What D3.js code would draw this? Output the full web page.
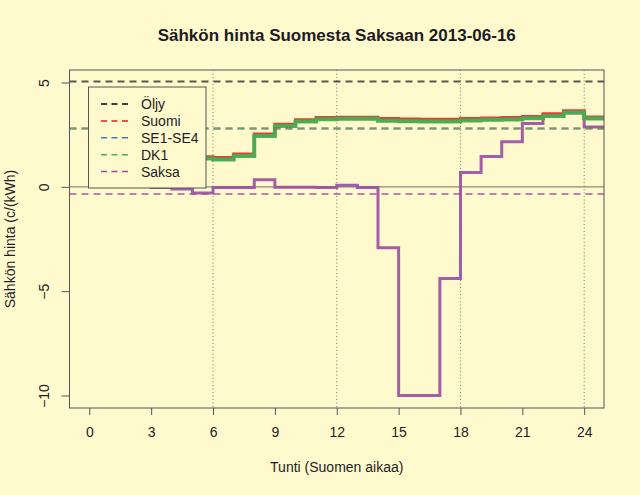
<!DOCTYPE html>
<html>
<head>
<meta charset="utf-8">
<script src="https://cdn.jsdelivr.net/npm/d3@7"></script>
<style>
  html, body { margin: 0; padding: 0; background: #FFFACD; }
  svg { display: block; font-family: "Liberation Sans", Arial, Helvetica, sans-serif; }
</style>
</head>
<body>
<svg id="chart" width="640" height="495"></svg>
<script>
// ---- data ----
const title = "Sähkön hinta Suomesta Saksaan 2013-06-16";
const xLabel = "Tunti (Suomen aikaa)";
const yLabel = "Sähkön hinta (c/(kWh)";
const hours = [0,1,2,3,4,5,6,7,8,9,10,11,12,13,14,15,16,17,18,19,20,21,22,23,24];
const suomi = [1.96,1.86,1.76,1.66,1.56,1.44,1.41,1.57,2.53,3.00,3.21,3.32,3.33,3.33,3.27,3.25,3.24,3.24,3.27,3.30,3.32,3.37,3.50,3.65,3.35];
const se = [1.88,1.78,1.68,1.58,1.48,1.36,1.31,1.48,2.44,2.92,3.13,3.24,3.26,3.26,3.17,3.14,3.13,3.13,3.18,3.21,3.23,3.29,3.40,3.56,3.28];
const dk1 = [1.88,1.78,1.68,1.58,1.48,1.36,1.31,1.48,2.44,2.92,3.13,3.24,3.26,3.26,3.17,3.14,3.13,3.13,3.18,3.21,3.23,3.29,3.40,3.56,3.28];
const saksa = [0.30,0.20,0.12,-0.03,-0.10,-0.30,-0.03,-0.03,0.34,-0.02,-0.02,-0.03,0.08,-0.03,-2.92,-10.0,-10.0,-4.39,0.69,1.46,2.16,3.04,3.38,3.54,2.87];
const seriesNames = ["Öljy","Suomi","SE1-SE4","DK1","Saksa"];
const seriesColors = ["#000000","#E41A1C","#377EB8","#4DAF4A","#984EA3"];
const meanValues = [5.05, 2.80, 2.80, 2.80, -0.34]; // Öljy, Suomi, SE1-SE4, DK1, Saksa
const xTicks = [0,3,6,9,12,15,18,21,24];
const yTicks = [-10,-5,0,5];
const vGrid = [6,12,18,24];

// ---- layout ----
const svg = d3.select("#chart");
const L = 69.5, R = 604, T = 70, B = 408;
const x = d3.scaleLinear().domain([-0.96, 24.96]).range([L, R]);
const y = d3.scaleLinear().domain([-10.6, 5.6]).range([B, T]);
const textCol = "#1f1a24";
const axisCol = "#555555";

svg.append("defs").append("clipPath").attr("id","clip")
  .append("rect").attr("x",L).attr("y",T).attr("width",R-L).attr("height",B-T);

// title
svg.append("text").attr("x",(L+R)/2).attr("y",41).attr("text-anchor","middle")
  .attr("font-weight","bold").attr("font-size",17).attr("fill",textCol).text(title);

const plot = svg.append("g").attr("clip-path","url(#clip)");

// zero line
plot.append("line").attr("x1",L).attr("x2",R).attr("y1",y(0)).attr("y2",y(0))
  .attr("stroke","#8c8a78").attr("stroke-width",1.2);

// vertical dotted lines
plot.selectAll(".vg").data(vGrid).enter().append("line")
  .attr("x1",d=>x(d)).attr("x2",d=>x(d)).attr("y1",T).attr("y2",B)
  .attr("stroke","#555").attr("stroke-width",0.8).attr("stroke-dasharray","1,2.5");

// step series (value of hour h spans h..h+1)
function stepData(vals){
  const pts = hours.map((h,i)=>[h, vals[i]]);
  pts.push([hours[hours.length-1]+1, vals[vals.length-1]]);
  return pts;
}
const stepLine = d3.line().x(d=>x(d[0])).y(d=>y(d[1])).curve(d3.curveStepAfter);

// draw order: Saksa, Suomi, SE, DK1
plot.append("path").datum(stepData(saksa)).attr("d",stepLine)
  .attr("fill","none").attr("stroke",seriesColors[4]).attr("stroke-width",3).attr("stroke-opacity",0.9);
plot.append("path").datum(stepData(suomi)).attr("d",stepLine)
  .attr("fill","none").attr("stroke",seriesColors[1]).attr("stroke-width",3).attr("stroke-opacity",0.85);
plot.append("path").datum(stepData(se)).attr("d",stepLine)
  .attr("fill","none").attr("stroke",seriesColors[2]).attr("stroke-width",3).attr("stroke-opacity",0.85);
plot.append("path").datum(stepData(dk1)).attr("d",stepLine)
  .attr("fill","none").attr("stroke",seriesColors[3]).attr("stroke-width",4).attr("stroke-opacity",0.9);

// mean dashed lines
plot.selectAll(".mean").data(meanValues).enter().append("line")
  .attr("x1",L).attr("x2",R).attr("y1",d=>y(d)).attr("y2",d=>y(d))
  .attr("stroke",(d,i)=>seriesColors[i]).attr("stroke-width",2)
  .attr("stroke-opacity",(d,i)=> i===0 ? 0.65 : (i===4 ? 0.7 : 0.5))
  .attr("stroke-dasharray","7,5");

// box
svg.append("rect").attr("x",L).attr("y",T).attr("width",R-L).attr("height",B-T)
  .attr("fill","none").attr("stroke",axisCol).attr("stroke-width",1);

// x axis
const xAxis = svg.append("g").attr("transform",`translate(0,${B})`)
  .call(d3.axisBottom(x).tickValues(xTicks).tickSize(7).tickPadding(12).tickFormat(d3.format("d")));
xAxis.select(".domain").remove();
xAxis.selectAll("line").attr("stroke",axisCol);
xAxis.selectAll("text").attr("font-size",14).attr("fill",textCol)
  .attr("font-family","'Liberation Sans', Arial, sans-serif");

// y axis
const yAxis = svg.append("g").attr("transform",`translate(${L},0)`)
  .call(d3.axisLeft(y).tickValues(yTicks).tickSize(8).tickFormat(d3.format("d")));
yAxis.select(".domain").remove();
yAxis.selectAll("line").attr("stroke",axisCol);
yAxis.selectAll("text")
  .attr("font-size",14).attr("fill",textCol).attr("font-family","'Liberation Sans', Arial, sans-serif")
  .attr("x",null).attr("dy",null)
  .attr("text-anchor","middle")
  .attr("transform","translate(-20.5,0) rotate(-90)");

// axis titles
svg.append("text").attr("x",(L+R)/2).attr("y",472).attr("text-anchor","middle")
  .attr("font-size",14).attr("fill",textCol).text(xLabel);
svg.append("text").attr("transform",`translate(15,${(T+B)/2}) rotate(-90)`)
  .attr("text-anchor","middle").attr("font-size",14).attr("fill",textCol).text(yLabel);

// legend
const lg = svg.append("g");
lg.append("rect").attr("x",88.5).attr("y",87).attr("width",117.5).attr("height",101)
  .attr("fill","#FFFACD").attr("stroke",axisCol).attr("stroke-width",1);
const rowY = i => 104 + i*16.9;
seriesNames.forEach((name,i)=>{
  lg.append("line").attr("x1",101).attr("x2",129).attr("y1",rowY(i)).attr("y2",rowY(i))
    .attr("stroke",seriesColors[i]).attr("stroke-width",1.5).attr("stroke-dasharray","6,4.5");
  lg.append("text").attr("x",141).attr("y",rowY(i)+5).attr("font-size",14)
    .attr("fill",textCol).text(name);
});
</script>
</body>
</html>
